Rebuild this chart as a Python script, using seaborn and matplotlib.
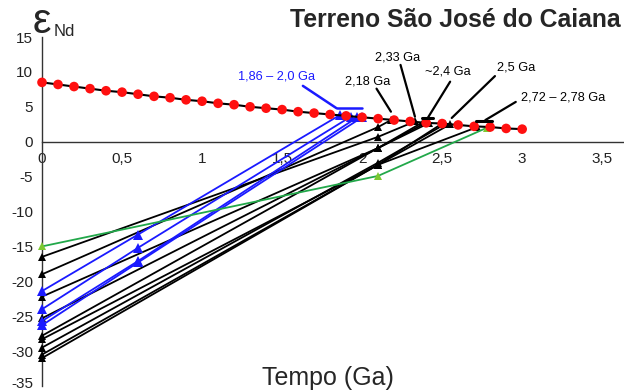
import matplotlib
matplotlib.use("Agg")
import matplotlib.pyplot as plt
import matplotlib.transforms as mtransforms
import seaborn as sns
import pandas as pd

# ---------------- data ----------------
dm_time = [0.0, 0.1, 0.2, 0.3, 0.4, 0.5, 0.6, 0.7, 0.8, 0.9, 1.0, 1.1, 1.2, 1.3, 1.4, 1.5,
           1.6, 1.7, 1.8, 1.9, 2.0, 2.1, 2.2, 2.3, 2.4, 2.5, 2.6, 2.7, 2.8, 2.9, 3.0]
dm_eps = [8.5, 8.2, 7.9, 7.6, 7.3, 7.1, 6.8, 6.5, 6.3, 6.0, 5.8, 5.5, 5.3, 5.0, 4.8, 4.6,
          4.3, 4.1, 3.9, 3.7, 3.5, 3.3, 3.1, 2.9, 2.7, 2.6, 2.4, 2.2, 2.1, 1.9, 1.8]

black_e0 = [-16.5, -19.0, -22.2, -25.3, -27.8, -28.3, -29.5, -30.5, -31.0]
black_tc = [2.1, 2.1, 2.1, 2.1, 2.1, 2.1, 2.1, 2.1, 2.1]
black_etc = [0.7, 2.1, -0.9, -0.9, -0.9, -3.3, -3.0, -3.3, -3.3]
black_tdm = [2.33, 2.18, 2.40, 2.38, 2.42, 2.50, 2.52, 2.72, 2.55]
black_edm = [2.9, 3.1, 2.75, 2.8, 2.7, 2.6, 2.55, 2.1, 2.5]

blue_e0 = [-21.4, -24.0, -25.7, -26.3]
blue_tc = [0.6, 0.6, 0.6, 0.6]
blue_etc = [-13.3, -15.2, -17.1, -17.3]
blue_tdm = [1.86, 1.93, 1.97, 2.0]
blue_edm = [3.8, 3.6, 3.5, 3.5]

green_time = [0.0, 2.1, 2.78]
green_eps = [-15.0, -4.9, 2.0]

x_ticks = [0, 0.5, 1, 1.5, 2, 2.5, 3, 3.5]
x_labels = ["0", "0,5", "1", "1,5", "2", "2,5", "3", "3,5"]
y_ticks = [-35, -30, -25, -20, -15, -10, -5, 0, 5, 10, 15]

age_labels = ["1,86 – 2,0 Ga", "2,18 Ga", "2,33 Ga", "~2,4 Ga", "2,5 Ga", "2,72 – 2,78 Ga"]


def three_point(prefix, e0, tc, etc, tdm, edm):
    rows = []
    for i in range(len(e0)):
        for t, e in ((0.0, e0[i]), (tc[i], etc[i]), (tdm[i], edm[i])):
            rows.append({"sample": f"{prefix}{i}", "time": t, "eps": e})
    return pd.DataFrame(rows)


df_black = three_point("k", black_e0, black_tc, black_etc, black_tdm, black_edm)
df_blue = three_point("b", blue_e0, blue_tc, blue_etc, blue_tdm, blue_edm)
df_green = pd.DataFrame({"sample": "g", "time": green_time, "eps": green_eps})
df_dm = pd.DataFrame({"time": dm_time, "eps": dm_eps})

# ---------------- figure ----------------
sns.set_theme(style="white")
plt.rcParams["font.family"] = ["Liberation Sans", "DejaVu Sans"]

fig = plt.figure(figsize=(6.24, 3.92), dpi=100)
ax = fig.add_axes([42 / 624, 6 / 392, 581 / 624, 349 / 392])

sns.lineplot(data=df_black, x="time", y="eps", units="sample", estimator=None, sort=False,
             color="black", lw=1.3, marker="^", markersize=6, markeredgewidth=0,
             clip_on=False, ax=ax, zorder=3)
sns.lineplot(data=df_blue, x="time", y="eps", units="sample", estimator=None, sort=False,
             color="#1a1aff", lw=1.3, marker="^", markersize=7, markeredgewidth=0,
             clip_on=False, ax=ax, zorder=3)
sns.lineplot(data=df_green, x="time", y="eps", units="sample", estimator=None, sort=False,
             color="#22a84a", lw=1.3, marker="^", markersize=6, markeredgewidth=0,
             markerfacecolor="#7cc830", clip_on=False, ax=ax, zorder=3)
sns.lineplot(data=df_dm, x="time", y="eps", color="black", lw=1.5, sort=False,
             ax=ax, zorder=4, clip_on=False)
sns.scatterplot(data=df_dm, x="time", y="eps", color="#ff1010", s=48, edgecolor="none",
                ax=ax, zorder=5, clip_on=False)

# annotations (age ranges)
ann = dict(color="black", lw=1.6, clip_on=False, zorder=6)
ax.plot([1.63, 1.84], [8.0, 4.8], color="#1a1aff", lw=1.8, clip_on=False, zorder=6)
ax.plot([1.84, 2.0], [4.8, 4.8], color="#1a1aff", lw=1.8, clip_on=False, zorder=6)
ax.plot([2.09, 2.18], [7.6, 4.3], **ann)
ax.plot([2.24, 2.33], [11.0, 3.6], **ann)
ax.plot([2.55, 2.41], [8.6, 3.4], **ann)
ax.plot([2.375, 2.44], [3.4, 3.4], color="black", lw=2.2, clip_on=False, zorder=6)
ax.plot([2.83, 2.56], [9.4, 3.4], **ann)
ax.plot([2.96, 2.77], [5.7, 3.1], **ann)
ax.plot([2.71, 2.81], [3.0, 3.0], color="black", lw=2.2, clip_on=False, zorder=6)

txt = dict(fontsize=9.2, va="center", ha="left", clip_on=False)
ax.text(1.225, 9.3, age_labels[0], color="#1a1aff", **txt)
ax.text(1.89, 8.6, age_labels[1], color="black", **txt)
ax.text(2.08, 12.1, age_labels[2], color="black", **txt)
ax.text(2.39, 10.0, age_labels[3], color="black", **txt)
ax.text(2.84, 10.7, age_labels[4], color="black", **txt)
ax.text(2.99, 6.4, age_labels[5], color="black", **txt)

# axes styling
ax.set_xlim(0, 3.63)
ax.set_ylim(-35, 15)
ax.set_xticks(x_ticks)
ax.set_xticklabels(x_labels)
ax.set_yticks(y_ticks)
ax.set_yticklabels([str(v) for v in y_ticks])
ax.tick_params(axis="both", direction="inout", length=7, width=1, color="#333333",
               labelsize=11, labelcolor="#222222")
for lab in ax.get_xticklabels():
    if lab.get_text() in ("1,5", "2"):
        lab.set_color("#e01010")
ax.tick_params(axis="x", pad=4)
ax.tick_params(axis="y", pad=3)
ax.spines["bottom"].set_position(("data", 0))
ax.spines["left"].set_position(("data", 0))
for s in ("top", "right"):
    ax.spines[s].set_visible(False)
for s in ("bottom", "left"):
    ax.spines[s].set_color("#333333")
    ax.spines[s].set_linewidth(1)
ax.set_xlabel("")
ax.set_ylabel("")
ax.patch.set_alpha(0)

# nudge the lowest y tick label up slightly so it stays inside the canvas
lowest = ax.get_yticklabels()[0]
lowest.set_transform(lowest.get_transform() +
                     mtransforms.ScaledTranslation(0, 3 / 100, fig.dpi_scale_trans))

fig.text(328 / 624, 1 - 378 / 392, "Tempo (Ga)", fontsize=18, ha="center", va="center")
fig.text(621 / 624, 1 - 20 / 392, "Terreno São José do Caiana", fontsize=17.8,
         fontweight="bold", ha="right", va="center")
fig.text(33 / 624, 1 - 33 / 392, "ε", fontsize=30, ha="left", va="baseline")
fig.text(54 / 624, 1 - 36 / 392, "Nd", fontsize=12, ha="left", va="baseline")

fig.savefig("out.png", dpi=100)
